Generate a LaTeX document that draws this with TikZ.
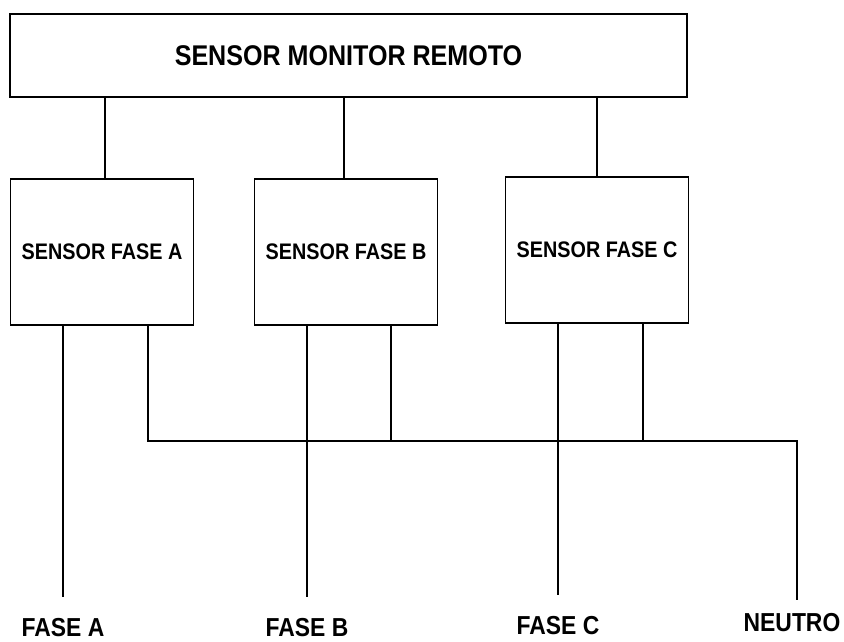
\documentclass[tikz,border=0pt]{standalone}
\usepackage{fontspec}
\setmainfont{Liberation Sans}
\newfontfamily\condfont[FakeStretch=0.88]{Liberation Sans}
\begin{document}
\begin{tikzpicture}[x=1pt,y=-1pt,
  box/.style={draw,line width=1.5pt,inner sep=0pt,font=\condfont\bfseries\fontsize{22.5}{24}\selectfont},
  wire/.style={line width=1.2pt},
  lbl/.style={anchor=base,inner sep=0pt,text depth=0pt,font=\condfont\bfseries\fontsize{26}{28}\selectfont}]
\useasboundingbox (0,0) rectangle (844,642);
\node[box,minimum width=677pt,minimum height=83pt,font=\condfont\bfseries\fontsize{28.5}{30}\selectfont] (top) at (348.5,55.5) {SENSOR MONITOR REMOTO};
\node[box,minimum width=183pt,minimum height=146pt] (A) at (102,252) {SENSOR FASE A};
\node[box,minimum width=183pt,minimum height=146pt] (B) at (346,252) {SENSOR FASE B};
\node[box,minimum width=183pt,minimum height=146pt] (C) at (597,250) {SENSOR FASE C};
\node[lbl] (fa) at (63,636) {FASE A};
\node[lbl] (fb) at (307,636) {FASE B};
\node[lbl] (fc) at (558,634) {FASE C};
\node[lbl] (ne) at (792,631) {NEUTRO};
\draw[wire] ([xshift=3pt]A.north) -- ([xshift=3pt]A.north |- top.south);
\draw[wire] ([xshift=-2pt]B.north) -- ([xshift=-2pt]B.north |- top.south);
\draw[wire] (C.north) -- (C.north |- top.south);
\coordinate (bus) at (797,441);
\coordinate (fae) at (63,597);
\coordinate (fbe) at (307,597);
\coordinate (fce) at (558,595);
\coordinate (nee) at (797,600);
\draw[wire] ([xshift=-39pt]A.south) -- (fae);
\draw[wire] ([xshift=-39pt]B.south) -- (fbe);
\draw[wire] ([xshift=-39pt]C.south) -- (fce);
\draw[wire] ([xshift=46pt]A.south) |- (bus) -- (nee);
\draw[wire] ([xshift=45pt]B.south) -- ([xshift=45pt]B.south |- bus);
\draw[wire] ([xshift=46pt]C.south) -- ([xshift=46pt]C.south |- bus);
\end{tikzpicture}
\end{document}
